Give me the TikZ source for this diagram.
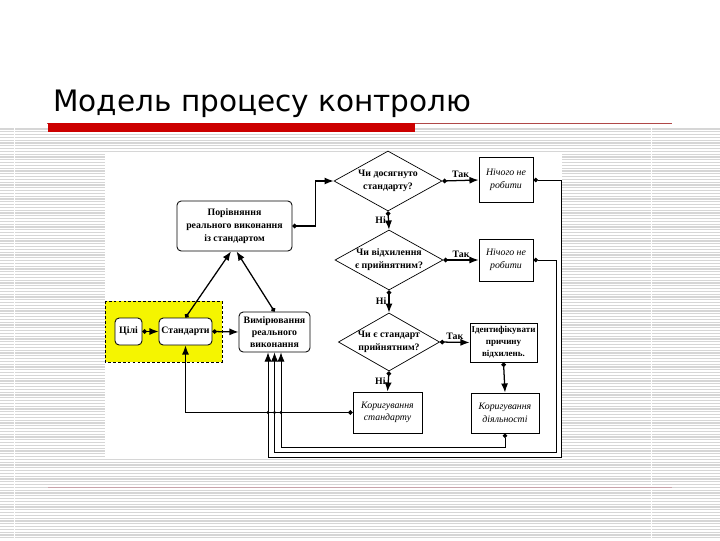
\documentclass[tikz,border=0pt]{standalone}
\usepackage{fontspec}
\setmainfont{Liberation Serif}
\newfontfamily\titlefont{DejaVu Sans}
\usetikzlibrary{arrows.meta,positioning,shapes.geometric,calc}
\definecolor{slidered}{HTML}{CC0000}
\definecolor{rulered}{HTML}{B04848}
\definecolor{rulepink}{HTML}{C9A3AB}
\definecolor{stripegray}{HTML}{D6D6D6}
\definecolor{hiyellow}{HTML}{F5F500}
\tikzset{
  flowbox/.style={draw, line width=0.6pt, fill=white, align=center, inner sep=1pt,
    font=\fontsize{7}{8.6}\selectfont\bfseries},
  softbox/.style={flowbox, rounded corners=3pt},
  actbox/.style={flowbox, font=\fontsize{7}{9}\selectfont\itshape},
  decbox/.style={draw, line width=0.5pt, shape=diamond, aspect=1.8, inner sep=0pt,
    align=center, fill=white, font=\fontsize{7}{9.4}\selectfont\bfseries},
  conn/.style={{Circle[length=3.2pt]}-{Latex[length=6.5pt,width=5pt]}, line width=0.9pt},
  loopconn/.style={conn, line width=0.6pt},
  lbl/.style={font=\fontsize{7}{9}\selectfont\bfseries, inner sep=1.5pt},
  jdot/.style={circle, fill, inner sep=0pt, minimum size=2.2pt},
  stripe/.style={draw=stripegray, line width=0.75pt}
}

\begin{document}
\begin{tikzpicture}[x=0.025cm,y=-0.025cm]
  \useasboundingbox (0,0) rectangle (720,540);
  % slide background
  \foreach \yy in {129,131.8,...,540}
    \draw[stripe] (0,\yy) -- (720,\yy);
  \fill[white] (13.5,128) rectangle (15,540);
  \fill[white] (650.5,128) rectangle (652,540);
  \fill[white] (105,152) rectangle (562,459);
  \draw[rulered, line width=0.6pt] (47,123) -- (672,123);
  \fill[slidered] (48,123) rectangle (415,132);
  \draw[rulepink, line width=0.7pt] (48,487) -- (672,487);
  \node[anchor=base west, inner sep=0pt, font=\titlefont\fontsize{21}{25}\selectfont] (title)
    at (53,111) {Модель процесу контролю};

  % planning block
  \fill[hiyellow] (105,301) rectangle (222,362);
  \draw[dashed, dash pattern=on 2pt off 1.5pt, line width=0.5pt] (105,301) rectangle (222,362);
  \node[softbox, minimum width=0.675cm, minimum height=0.675cm] (goals) at (128.5,331.5) {Цілі};
  \node[softbox, minimum width=1.325cm, minimum height=0.675cm] (stds) at (185.5,331.5) {Стандарти};
  \node[softbox, minimum width=1.775cm, minimum height=1cm] (measure) at (274.5,332)
    {Вимірювання\\реального\\виконання};
  \node[softbox, minimum width=2.875cm, minimum height=1.25cm, font=\fontsize{7}{9.2}\selectfont\bfseries]
    (compare) at (234.5,226) {Порівняння\\реального виконання\\із стандартом};

  % decisions
  \node[decbox, minimum width=2.7cm, minimum height=1.5cm] (reached) at (388,181)
    {Чи досягнуто\\стандарту?};
  \node[decbox, minimum width=2.7cm, minimum height=1.5cm] (devok) at (389,260)
    {Чи відхилення\\є прийнятним?};
  \node[decbox, minimum width=2.5cm, minimum height=1.45cm] (stdok) at (389,342)
    {Чи є стандарт\\прийнятним?};

  % outcomes
  \node[actbox, minimum width=1.35cm, minimum height=1.125cm] (idleA) at (506,180) {Нічого не\\робити};
  \node[actbox, minimum width=1.35cm, minimum height=1.05cm] (idleB) at (506,260) {Нічого не\\робити};
  \node[flowbox, minimum width=1.675cm, minimum height=0.975cm, font=\fontsize{6.4}{8.6}\selectfont\bfseries]
    (cause) at (503.5,342.5) {Ідентифікувати\\причину\\відхилень.};
  \node[actbox, minimum width=1.725cm, minimum height=1.025cm] (fixstd) at (387.5,412.5)
    {Коригування\\стандарту};
  \node[actbox, minimum width=1.7cm, minimum height=1cm] (fixact) at (505,413)
    {Коригування\\діяльності};

  \coordinate (loopA) at (561,457);
  \coordinate (loopB) at (556,452);

  % connectors
  \draw[conn] (goals.east) -- (stds.west);
  \draw[conn] (stds.east) -- (measure.west);
  \draw[conn] (stds.north) -- ($(compare.south)+(-3.5,0)$);
  \draw[conn] (measure.north) -- ($(compare.south)+(2,0)$);
  \draw[conn] (compare.east) -- ++(23,0) |- (reached.west);
  \draw[conn] (reached.east) -- node[lbl, above] {Так} (idleA.west);
  \draw[conn] (reached.south) -- node[lbl, left] {Ні} (devok.north);
  \draw[conn] (devok.east) -- node[lbl, above] {Так} (idleB.west);
  \draw[conn] (devok.south) -- node[lbl, left] {Ні} (stdok.north);
  \draw[conn] (stdok.east) -- node[lbl, above] {Так} (cause.west);
  \draw[conn] (stdok.south) -- node[lbl, left] {Ні} (fixstd.north);
  \draw[conn] (cause.south) -- (fixact.north);
  \draw[conn] (fixstd.west) -| (stds.south);
  \draw[loopconn] (idleA.east) -| (loopA) -| ($(measure.south)+(-6.5,0)$);
  \draw[loopconn] (idleB.east) -| (loopB) -| (measure.south);
  \draw[loopconn] (fixact.south) -- ++(0,14) -| ($(measure.south)+(6.5,0)$);
  \foreach \xx in {268,274.5,281}
    \node[jdot] at (\xx,412.5) {};
\end{tikzpicture}
\end{document}
